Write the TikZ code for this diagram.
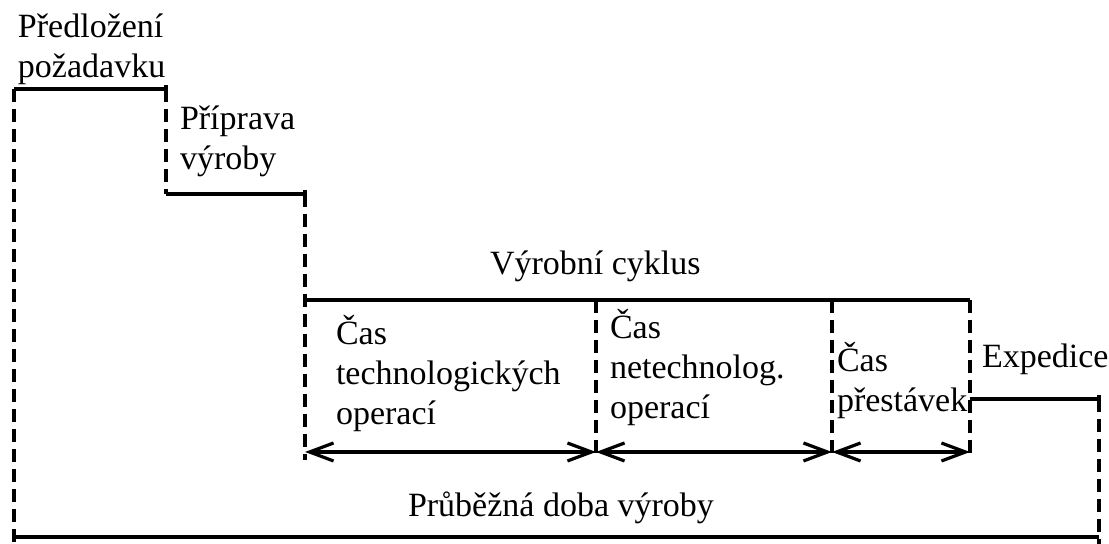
\documentclass[tikz,border=0pt]{standalone}
\usepackage{fontspec}
\setmainfont{Liberation Serif}
\usetikzlibrary{arrows.meta}
\begin{document}
\begin{tikzpicture}[x=0.5pt,y=-0.5pt,
  every node/.style={inner sep=0pt,outer sep=0pt,anchor=base west,align=left,
    font=\rmfamily\fontsize{17}{20}\selectfont},
  span/.style={line width=1.8pt},
  guide/.style={line width=1.6pt,dash pattern=on 6.5pt off 3.5pt},
  tick/.style={line width=1.6pt},
  dim/.style={line width=1.6pt,{Straight Barb[length=12pt,width=9pt]}-{Straight Barb[length=12pt,width=9pt]}}]
\useasboundingbox (0,0) rectangle (1109,544);

% key points of the time line
\coordinate (p0) at (14,89);   \coordinate (p1) at (166,89);
\coordinate (q0) at (166,194); \coordinate (q1) at (305,194);
\coordinate (c0) at (305,300); \coordinate (c1) at (596,300);
\coordinate (c2) at (832,300); \coordinate (c3) at (970,300);
\coordinate (e0) at (970,399); \coordinate (e1) at (1099,399);
\coordinate (b0) at (14,537);  \coordinate (b1) at (1099,537);
\coordinate (a0) at (305,452); \coordinate (a1) at (596,452);
\coordinate (a2) at (832,452); \coordinate (a3) at (970,452);
\coordinate (g0) at (14,544);  \coordinate (g1) at (166,194);
\coordinate (g2) at (305,460); \coordinate (g3) at (596,460);
\coordinate (g4) at (832,460); \coordinate (g5) at (970,460);
\coordinate (g6) at (1099,544);

% labels (multi-line labels sit on the baseline of their last line)
\node (predlozeni) at (18,78) {Předložení\\požadavku};
\node (priprava) at (180,170) {Příprava\\výroby};
\node (cyklus) at (490,275) {Výrobní cyklus};
\node (tech) at (336,425) {Čas\\technologických\\operací};
\node (netech) at (610,419) {Čas\\netechnolog.\\operací};
\node (prestavky) at (837,412) {Čas\\přestávek};
\node (expedice) at (982,368) {Expedice};
\node (prubezna) at (408,517) {Průběžná doba výroby};

% dashed guides
\draw[guide] (p0) -- (g0);
\draw[guide] (p1) -- (g1);
\draw[guide] (q1) -- (g2);
\draw[guide] (c1) -- (g3);
\draw[guide] (c2) -- (g4);
\draw[guide] (c3) -- (g5);
\draw[guide] (e1) -- (g6);

% phase spans
\draw[span] (p0) -- (p1);
\draw[span] (q0) -- (q1);
\draw[span] (c0) -- (c3);
\draw[span] (e0) -- (e1);
\draw[span] (b0) -- (b1);

% end ticks
\draw[tick] ([yshift=-3pt]p1) -- ([yshift=2pt]p1);
\draw[tick] ([yshift=-3pt]q1) -- ([yshift=2pt]q1);
\draw[tick] ([yshift=-4pt]c3) -- (c3);
\draw[tick] ([yshift=-3pt]e1) -- ([yshift=2pt]e1);

% durations within the production cycle
\draw[dim] (a0) -- (a1);
\draw[dim] (a1) -- (a2);
\draw[dim] (a2) -- (a3);
\end{tikzpicture}
\end{document}
